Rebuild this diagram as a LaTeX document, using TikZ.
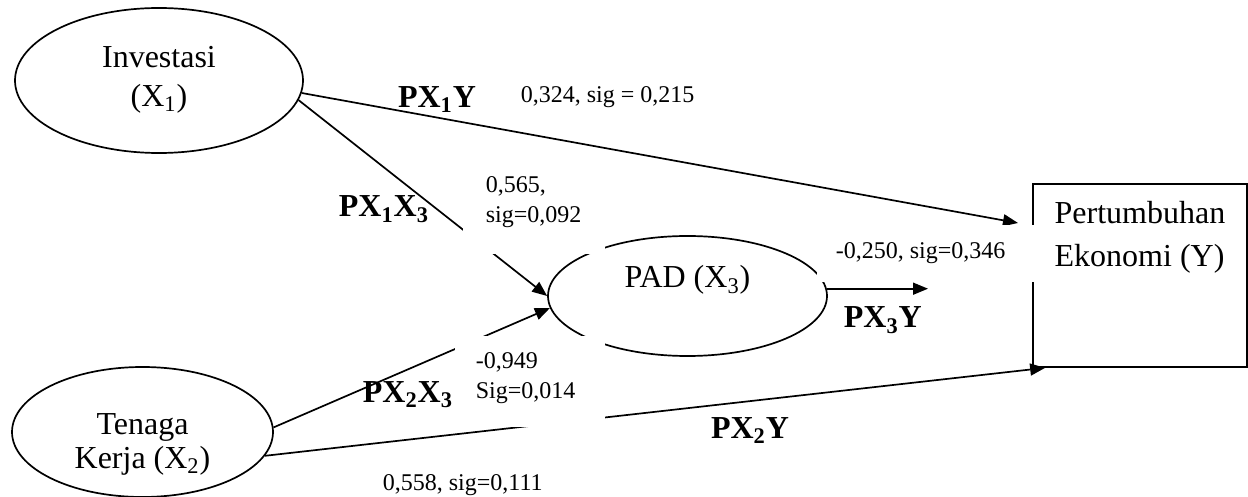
\documentclass[tikz,border=0pt]{standalone}
\usepackage{fontspec}
\setmainfont{Liberation Serif}
\usetikzlibrary{arrows.meta,shapes.geometric}
% stacked lines of node text: raise, line spacing, column type, lines
\newcommand{\stacked}[4]{\raisebox{#1}[\height][\depth]{\fontsize{16}{#2}\selectfont\begin{tabular}{@{}#3@{}}#4\end{tabular}}}
\begin{document}
\begin{tikzpicture}[x=0.5pt,y=-0.5pt,
  line width=0.85pt,
  small/.style={font=\fontsize{12}{15}\selectfont, inner sep=0pt},
  tag/.style={font=\fontsize{16}{19}\selectfont\bfseries, inner sep=0pt},
  latent/.style={draw, ellipse, inner sep=0pt},
  observed/.style={draw, rectangle, inner sep=0pt},
  arr/.style={-{Triangle[length=7.5pt,width=6pt]}}]

\useasboundingbox (0,0) rectangle (1248,497);

% variables
\node[latent, minimum width=144pt, minimum height=72.5pt] (inv) at (159,80.5)
  {\stacked{0.8pt}{19.75pt}{c}{Investasi\\(X\textsubscript{1})}};
\node[latent, minimum width=130.5pt, minimum height=65pt] (ten) at (142.5,432)
  {\stacked{-6.1pt}{17pt}{c}{Tenaga\\Kerja (X\textsubscript{2})}};
\node[latent, minimum width=139.5pt, minimum height=60pt] (pad) at (687.5,296)
  {\stacked{7.8pt}{19pt}{c}{PAD (X\textsubscript{3})}};
\node[observed, minimum width=107pt, minimum height=91.5pt] (y) at (1140,275.5)
  {\stacked{19.3pt}{21.5pt}{l}{Pertumbuhan\\Ekonomi (Y)}};

% path arrows
\coordinate (x1end) at (1018,223);
\coordinate (x3end) at (928,288);
\draw[arr] (inv.-5.4) -- (x1end);
\draw[arr] (inv.-8) -- (pad.180);
\draw[arr] (ten.2) -- (pad.185);
\draw[arr] (ten.-11) -- ([xshift=6.5pt]y.south west);
\draw[arr] (pad.3) -- (pad.3 -| x3end);

% coefficient text boxes with opaque backgrounds
\fill[white] (463,165) rectangle (605,254);
\node[small, anchor=base west] (c13) at (485,193)
  {\begin{tabular}[t]{@{}l@{}}0,565,\\sig=0,092\end{tabular}};
\fill[white] (455,336) rectangle (605,427);
\node[small, anchor=base west] (c23) at (475,368)
  {\begin{tabular}[t]{@{}l@{}}-0,949\\Sig=0,014\end{tabular}};
\fill[white] (817,225) rectangle (1037,282.5);
\node[small, anchor=base west] (c3y) at (835,259) {-0,250, sig=0,346};
\node[small, anchor=base west] (c1y) at (520,103) {0,324, sig = 0,215};
\node[small, anchor=base west] (c2y) at (382,490) {0,558, sig=0,111};

% path names
\node[tag, anchor=base] (t1y) at (437,107.5) {PX\textsubscript{1}Y};
\node[tag, anchor=base west] (t13) at (338,217) {PX\textsubscript{1}X\textsubscript{3}};
\node[tag, anchor=base west] (t3y) at (843,328) {PX\textsubscript{3}Y};
\node[tag, anchor=base west] (t23) at (362,402) {PX\textsubscript{2}X\textsubscript{3}};
\node[tag, anchor=base] (t2y) at (750,438) {PX\textsubscript{2}Y};
\end{tikzpicture}
\end{document}
